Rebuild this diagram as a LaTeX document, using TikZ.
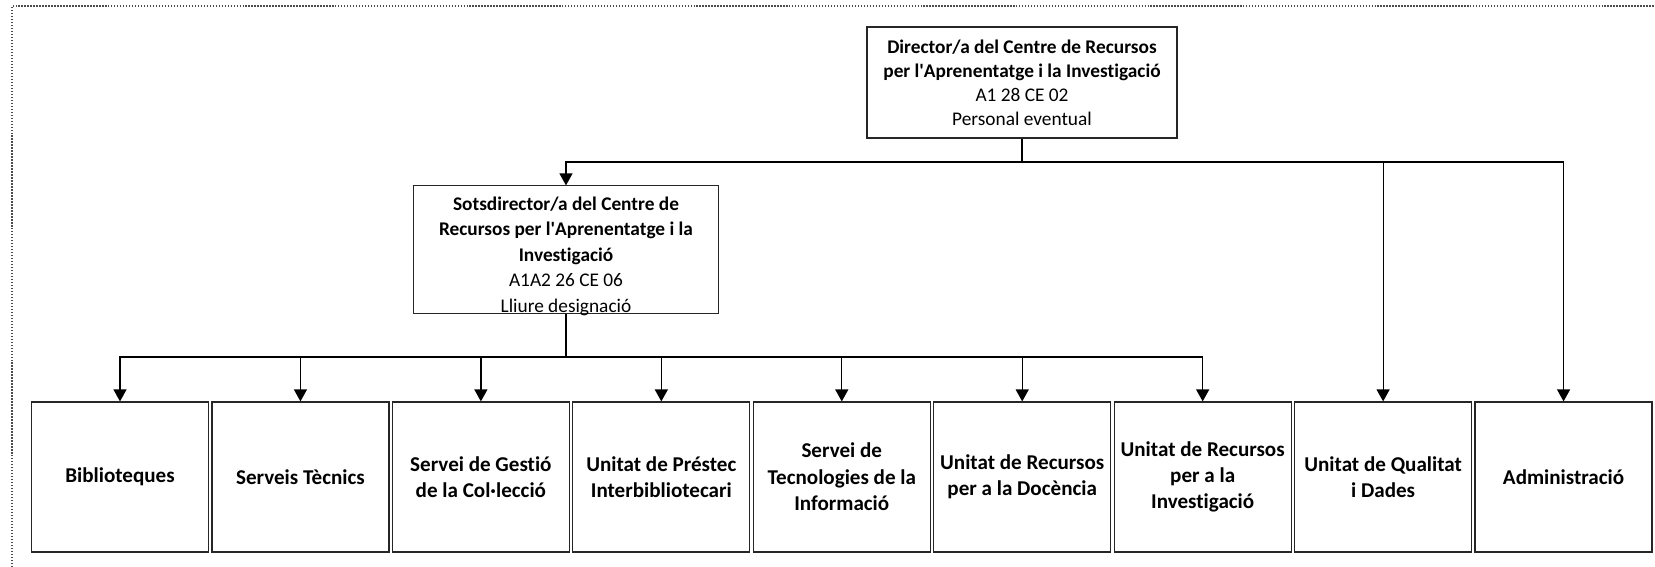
\documentclass[tikz,border=0pt]{standalone}
\usepackage{fontspec}
\setmainfont{Carlito}[Ligatures={NoCommon}]
\usetikzlibrary{arrows.meta,positioning}
\tikzset{
  carrec/.style={
    draw=black!85,
    line width=0.7pt,
    align=center,
    inner sep=3pt,
    font=\fontsize{11}{13.7}\selectfont
  },
  unitat/.style={
    draw=black!85,
    line width=0.7pt,
    align=center,
    minimum width=3.54cm,
    minimum height=3cm,
    inner sep=2pt,
    font=\bfseries\fontsize{12}{15}\selectfont
  },
  fletxa/.style={
    -{Triangle[length=2.4mm,width=2.6mm]},
    line width=0.7pt
  },
  linia/.style={line width=0.7pt}
}

\begin{document}
\begin{tikzpicture}[x=0.02cm,y=-0.02cm]
\useasboundingbox (0,0) rectangle (1655,567);
\draw[black!70,line width=0.6pt,dash pattern=on 0.8pt off 0.9pt] (12,567) |- (1655,6);

% direccio
\node[carrec,minimum width=6.2cm,minimum height=2.22cm] (dir) at (1022,82.5)
  {\textbf{Director/a del Centre de Recursos}\\
   \textbf{per l\textquotesingle Aprenentatge i la Investigació}\\
   A1 28 CE 02\\
   Personal eventual};
\node[carrec,draw=none,fill=none,minimum width=6.08cm,minimum height=2.54cm] (sots) at (566,249.5) {};
\draw[carrec] (sots.south west) rectangle (sots.north east);
\node[carrec,draw=none,font=\fontsize{11}{14.5}\selectfont] (sotstext) at (566,256)
  {\textbf{Sotsdirector/a del Centre de}\\
   \textbf{Recursos per l\textquotesingle Aprenentatge i la}\\
   \textbf{Investigació}\\
   A1A2 26 CE 06\\
   Lliure designació};

% unitats
\node[unitat] (bib) at (120,477) {Biblioteques};
\node[unitat,right=0.045cm of bib] (tec) {Serveis Tècnics};
\node[unitat,right=0.045cm of tec] (col) {Servei de Gestió\\de la Col·lecció};
\node[unitat,right=0.045cm of col] (pres) {Unitat de Préstec\\Interbibliotecari};
\node[unitat,right=0.045cm of pres] (sti) {Servei de\\Tecnologies de la\\Informació};
\node[unitat,right=0.045cm of sti] (doc) {Unitat de Recursos\\per a la Docència};
\node[unitat,right=0.045cm of doc] (inv) {Unitat de Recursos\\per a la\\Investigació};
\node[unitat,right=0.045cm of inv] (qual) {Unitat de Qualitat\\i Dades};
\node[unitat,right=0.045cm of qual] (adm) {Administració};

% connexions
\coordinate (busdir) at (1022,162);
\coordinate (bussots) at (566,357);
\draw[linia] (dir) -- (busdir);
\draw[fletxa] (busdir) -| (sots);
\draw[fletxa] (busdir) -| (qual);
\draw[fletxa] (busdir) -| (adm);
\draw[linia] (sots) -- (bussots);
\draw[fletxa] (bussots) -| (bib);
\draw[fletxa] (bussots) -| (tec);
\draw[fletxa] (bussots) -| (col);
\draw[fletxa] (bussots) -| (pres);
\draw[fletxa] (bussots) -| (sti);
\draw[fletxa] (bussots) -| (doc);
\draw[fletxa] (bussots) -| (inv);
\end{tikzpicture}
\end{document}
